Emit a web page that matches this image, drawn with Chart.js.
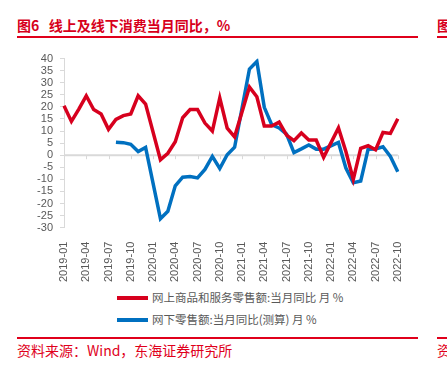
<!DOCTYPE html>
<html lang="zh">
<head>
<meta charset="UTF-8">
<title>线上及线下消费当月同比</title>
<script src="https://cdn.jsdelivr.net/npm/chart.js@4.4.0/dist/chart.umd.min.js"></script>
<style>
    body {
        margin: 0;
        width: 447px;
        height: 374px;
        background: #ffffff;
        position: relative;
        overflow: hidden;
        font-family: 'Liberation Sans', 'Noto Sans CJK SC', sans-serif;
    }
    .title {
        position: absolute;
        left: 17px;
        top: 16px;
        font-size: 14px;
        font-weight: bold;
        color: #d7001b;
        font-family: 'Noto Sans CJK SC', sans-serif;
        line-height: 18px;
        white-space: nowrap;
    }
    .rule {
        position: absolute;
        height: 2px;
        background: #e0001b;
    }
    .chart-box {
        position: absolute;
        left: 17px;
        top: 45px;
        width: 400px;
        height: 243px;
    }
    .legend {
        position: absolute;
        left: 117px;
        font-size: 11.5px;
        color: #595959;
        font-family: 'Noto Sans CJK SC', sans-serif;
        white-space: nowrap;
        line-height: 14px;
    }
    .legend span.sw {
        display: inline-block;
        width: 31px;
        height: 4px;
        vertical-align: middle;
        margin-right: 4px;
        position: relative;
        top: -1px;
    }
    .source {
        position: absolute;
        left: 17px;
        top: 341px;
        font-size: 14px;
        color: #e0001b;
        font-family: 'Noto Sans CJK SC', sans-serif;
        line-height: 18px;
        white-space: nowrap;
    }
</style>
</head>
<body>
<div class="title">图6&nbsp;&nbsp;&nbsp;线上及线下消费当月同比，%</div>
<div class="rule" style="left:17px; width:401px; top:36px;"></div>
<div class="title" style="left:437px;">图</div>
<div class="rule" style="left:437px; width:10px; top:36px;"></div>

<div class="chart-box"><canvas id="chart"></canvas></div>

<div class="legend" style="top:290px;"><span class="sw" style="background:#d7001e"></span>网上商品和服务零售额:当月同比 月 %</div>
<div class="legend" style="top:312px;"><span class="sw" style="background:#0070c0"></span>网下零售额:当月同比(测算) 月 %</div>

<div class="rule" style="left:17px; width:401px; top:337px;"></div>
<div class="rule" style="left:437px; width:10px; top:337px;"></div>
<div class="source">资料来源：Wind，东海证券研究所</div>
<div class="source" style="left:437px;">资</div>

<script>
    // monthly categories
    const months = [
        '2019-01', '2019-02', '2019-03', '2019-04', '2019-05', '2019-06',
        '2019-07', '2019-08', '2019-09', '2019-10', '2019-11', '2019-12',
        '2020-01', '2020-02', '2020-03', '2020-04', '2020-05', '2020-06',
        '2020-07', '2020-08', '2020-09', '2020-10', '2020-11', '2020-12',
        '2021-01', '2021-02', '2021-03', '2021-04', '2021-05', '2021-06',
        '2021-07', '2021-08', '2021-09', '2021-10', '2021-11', '2021-12',
        '2022-01', '2022-02', '2022-03', '2022-04', '2022-05', '2022-06',
        '2022-07', '2022-08', '2022-09', '2022-10'
    ];

    // 网上商品和服务零售额:当月同比
    const online = [
        20.5, 14.0, 19.1, 24.6, 18.9, 17.1, 10.7, 14.8, 16.4, 17.1, 24.6, 21.2,
        null, -1.9, 0.8, 5.6, 15.5, 18.9, 18.9, 13.3, 10.0, 23.7, 11.2, 7.6,
        null, 28.2, 24.2, 12.1, 12.1, 13.7, 8.3, 6.0, 9.2, 6.3, 6.3, -0.9,
        null, 11.3, 1.5, -10.0, 2.8, 3.9, 2.2, 9.4, 9.0, 15.1
    ];

    // 网下零售额:当月同比(测算)
    const offline = [
        null, null, null, null, null, null, null, 5.4, 5.2, 4.5, 1.5, 3.2,
        null, -26.3, -23.2, -12.7, -9.1, -8.8, -9.4, -5.9, -0.5, -5.5, 0.2, 3.3,
        null, 35.7, 38.8, 19.8, 12.6, 11.3, 8.7, 1.1, 2.6, 4.2, 2.5, 2.5,
        null, 5.3, -5.3, -11.4, -10.7, 2.5, 2.6, 3.5, -0.5, -6.9
    ];

    const yMin = -30, yMax = 40, yStep = 5;
    const labelEvery = 3;

    // zero line plus small ticks hanging from it
    const zeroLine = {
        id: 'zeroLine',
        beforeDatasetsDraw(chart) {
            const { ctx, chartArea, scales } = chart;
            const y0 = scales.y.getPixelForValue(0);
            ctx.save();
            ctx.strokeStyle = '#d9d9d9';
            ctx.lineWidth = 2;
            ctx.beginPath();
            ctx.moveTo(chartArea.left, y0);
            ctx.lineTo(chartArea.right, y0);
            ctx.stroke();
            ctx.lineWidth = 1;
            months.forEach((m, i) => {
                if (i % labelEvery !== 0) return;
                const x = Math.round(scales.x.getPixelForValue(i)) + 0.5;
                ctx.beginPath();
                ctx.moveTo(x, y0);
                ctx.lineTo(x, y0 + 4);
                ctx.stroke();
            });
            ctx.restore();
        }
    };

    new Chart(document.getElementById('chart'), {
        type: 'line',
        data: {
            labels: months,
            datasets: [
                {
                    label: '网上商品和服务零售额:当月同比 月 %',
                    data: online,
                    borderColor: '#d7001e',
                    borderWidth: 3.5,
                    pointRadius: 0,
                    spanGaps: true,
                    tension: 0
                },
                {
                    label: '网下零售额:当月同比(测算) 月 %',
                    data: offline,
                    borderColor: '#0070c0',
                    borderWidth: 3.5,
                    pointRadius: 0,
                    spanGaps: true,
                    tension: 0
                }
            ]
        },
        options: {
            responsive: true,
            maintainAspectRatio: false,
            animation: false,
            layout: { padding: { top: 6, right: 8, left: 0, bottom: 0 } },
            plugins: {
                legend: { display: false },
                tooltip: { enabled: false }
            },
            scales: {
                x: {
                    grid: { display: false },
                    border: { display: false },
                    ticks: {
                        autoSkip: false,
                        maxRotation: 90,
                        minRotation: 90,
                        padding: 6,
                        color: '#595959',
                        font: { family: 'Liberation Sans', size: 11 },
                        callback: (v, i) => (i % labelEvery === 0 ? months[i] : null)
                    }
                },
                y: {
                    min: yMin,
                    max: yMax,
                    afterFit: s => { s.width = 47; },
                    border: { display: true, color: '#d9d9d9', width: 1 },
                    grid: {
                        drawOnChartArea: false,
                        drawTicks: true,
                        tickLength: 4,
                        color: '#d9d9d9'
                    },
                    ticks: {
                        stepSize: yStep,
                        autoSkip: false,
                        padding: 7,
                        color: '#595959',
                        font: { family: 'Liberation Sans', size: 11 }
                    }
                }
            }
        },
        plugins: [zeroLine]
    });
</script>
</body>
</html>
